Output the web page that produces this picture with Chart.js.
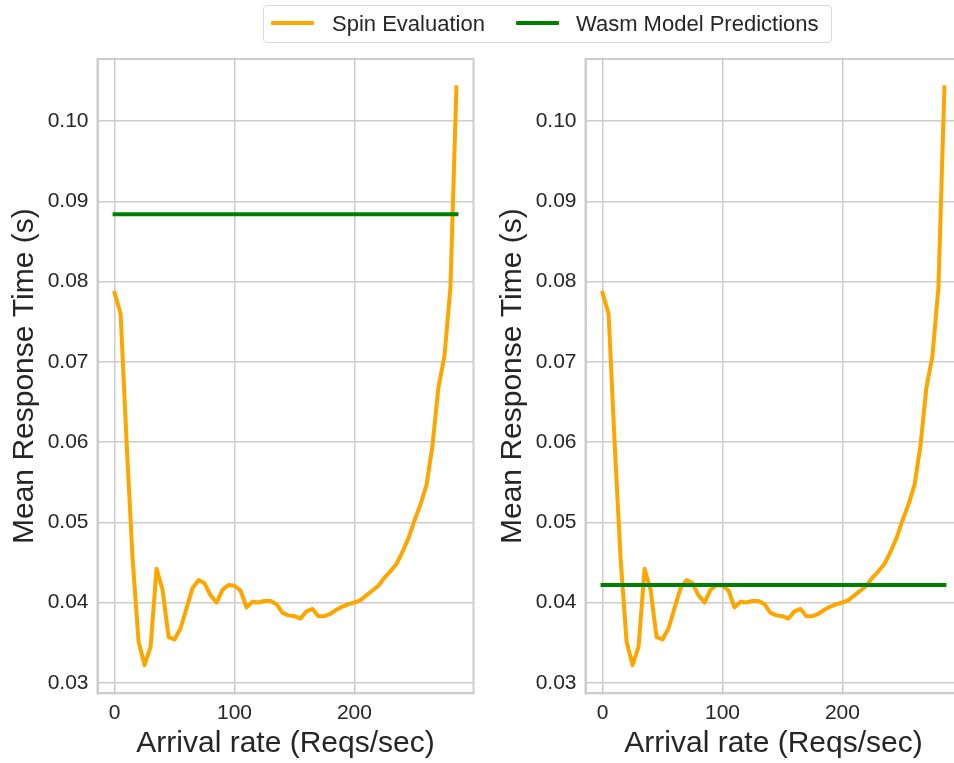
<!DOCTYPE html>
<html><head><meta charset="utf-8">
<script src="https://cdn.jsdelivr.net/npm/chart.js@4.4.0/dist/chart.umd.min.js"></script>
<style>
html,body{margin:0;padding:0;width:954px;height:763px;overflow:hidden;background:#fff;font-family:"Liberation Sans",Arial,sans-serif;}
canvas{position:absolute;top:0;}
#c1{left:0;}
#c2{left:487.5px;}
#legend{position:absolute;left:263px;top:5px;width:567px;height:36px;border:1px solid #d9d9d9;border-radius:4px;background:rgba(255,255,255,0.85);z-index:5;}
.sw{position:absolute;top:15px;width:43px;height:4px;border-radius:1px;}
.lt{position:absolute;top:0;font-size:22px;color:#262626;line-height:36px;white-space:nowrap;}
</style></head>
<body>
<canvas id="c1" width="480" height="763"></canvas>
<canvas id="c2" width="480" height="763"></canvas>
<div id="legend">
  <div class="sw" style="left:7px;background:#ffa500"></div>
  <div class="lt" style="left:68px">Spin Evaluation</div>
  <div class="sw" style="left:252px;background:#008000"></div>
  <div class="lt" style="left:312px">Wasm Model Predictions</div>
</div>
<script>
const arrivalRates = [0,5,10,15,20,25,30,35,40,45,50,55,60,65,70,75,80,85,90,95,100,105,110,115,120,125,130,135,140,145,150,155,160,165,170,175,180,185,190,195,200,205,210,215,220,225,230,235,240,245,250,255,260,265,270,275,280,285];
const spinEvaluation = [0.0786,0.0760,0.0600,0.0455,0.0351,0.0322,0.0345,0.0442,0.0416,0.0357,0.0354,0.0368,0.0393,0.0418,0.0428,0.0424,0.0409,0.0400,0.0416,0.0422,0.0421,0.0415,0.0394,0.0401,0.0400,0.0402,0.0402,0.0398,0.0387,0.0384,0.0383,0.0380,0.0389,0.0392,0.0383,0.0383,0.0386,0.0391,0.0395,0.0398,0.0400,0.0403,0.0409,0.0415,0.0421,0.0431,0.0439,0.0448,0.0463,0.0480,0.0502,0.0522,0.0546,0.0595,0.0668,0.0707,0.0792,0.1042];
const wasmX = [0,285];
const wasmLeft = [0.0884,0.0884];
const wasmRight = [0.0422,0.0422];
const xTicks = [0,100,200];
const yTicks = [0.03,0.04,0.05,0.06,0.07,0.08,0.09,0.10];
const xLabel = 'Arrival rate (Reqs/sec)';
const yLabel = 'Mean Response Time (s)';

const FAM = '"Liberation Sans", Arial, sans-serif';
const GRID = '#cccccc';
const TXT = '#262626';

const framePlugin = {
  id:'frame',
  afterDatasetsDraw(chart){
    const {ctx, chartArea:a} = chart;
    ctx.save();
    ctx.strokeStyle = GRID; ctx.lineWidth = 2;
    ctx.strokeRect(a.left, a.top, a.right-a.left, a.bottom-a.top);
    ctx.restore();
  }
};

function makeChart(id, wasm){
  return new Chart(document.getElementById(id), {
    type:'scatter',
    data:{datasets:[
      {label:'Spin Evaluation', data: arrivalRates.map((x,i)=>({x:x, y:spinEvaluation[i]})), showLine:true, borderColor:'#ffa500', backgroundColor:'#ffa500', borderWidth:4, pointRadius:0, order:2, borderJoinStyle:'round', borderCapStyle:'square'},
      {label:'Wasm Model Predictions', data: wasmX.map((x,i)=>({x:x, y:wasm[i]})), showLine:true, borderColor:'#008000', backgroundColor:'#008000', borderWidth:4, pointRadius:0, order:1, borderCapStyle:'square'}
    ]},
    options:{
      responsive:false, animation:false, devicePixelRatio:1,
      layout:{padding:{left:0,right:6.5,top:59,bottom:0}},
      plugins:{legend:{display:false}, tooltip:{enabled:false}},
      scales:{
        x:{type:'linear', min:-14.25, max:299.25,
          afterBuildTicks:s=>{s.ticks = xTicks.map(v=>({value:v}));},
          afterFit:s=>{s.height = 69.7;},
          grid:{color:GRID, lineWidth:1.5, drawTicks:false},
          border:{display:true, color:GRID, width:2},
          ticks:{padding:7, color:TXT, autoSkip:false, maxRotation:0, font:{size:21, family:FAM}, callback:v=>String(v)},
          title:{display:true, text:xLabel, color:TXT, font:{size:30, family:FAM}, padding:{top:0,bottom:1}}
        },
        y:{type:'linear', min:0.02869, max:0.10774,
          afterBuildTicks:s=>{s.ticks = yTicks.map(v=>({value:v}));},
          afterFit:s=>{s.width = 97.5;},
          grid:{color:GRID, lineWidth:1.5, drawTicks:false},
          border:{display:true, color:GRID, width:2},
          ticks:{padding:9, color:TXT, autoSkip:false, font:{size:21, family:FAM}, callback:v=>Number(v).toFixed(2)},
          title:{display:true, text:yLabel, color:TXT, font:{size:30, family:FAM}, padding:{top:7,bottom:0}}
        }
      }
    },
    plugins:[framePlugin]
  });
}
makeChart('c1', wasmLeft);
makeChart('c2', wasmRight);
</script>
</body></html>
